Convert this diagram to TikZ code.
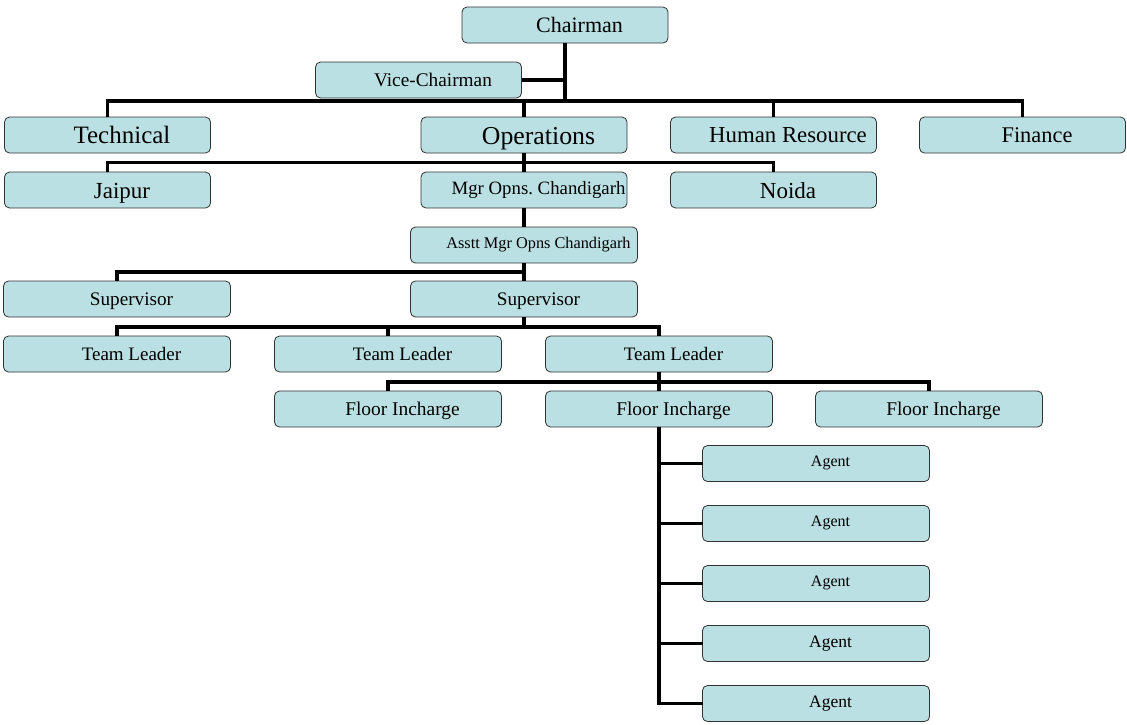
\documentclass[tikz,border=0pt]{standalone}
\usepackage{fontspec}
\setmainfont{Liberation Serif}
\usetikzlibrary{positioning}
\definecolor{boxfill}{RGB}{187,224,227}
\definecolor{boxline}{RGB}{50,50,50}
\newcommand{\fsz}[1]{\fontsize{#1}{#1}\selectfont}
\frenchspacing

\begin{document}
\begin{tikzpicture}[x=1pt, y=-1pt,
    box/.style={rectangle, rounded corners=5pt, draw=boxline, line width=0.8pt, fill=boxfill,
        minimum width=206pt, minimum height=36pt, inner sep=0pt, outer sep=0pt},
    wbox/.style={box, minimum width=227pt},
    txt/.style={xshift=14.5pt, inner sep=0pt, font=\fsz{#1}, text height={0.7*#1pt}, text depth=0pt, text=black},
    high/.style={yshift=2.5pt},
    link/.style={line width=3.5pt, black},
    ]
    \useasboundingbox (0,0) rectangle (1127,724);
    % Board
    \node[box, label={[txt=22]center:Chairman}] (chairman) at (565,25) {};
    \node[box, label={[txt=19.3]center:Vice-Chairman}] (vice) at (418.5,80) {};
    % Departments
    \node[box, label={[txt=25]center:Technical}] (technical) at (107.5,135) {};
    \node[box, label={[txt=25.8]center:Operations}] (operations) at (524,135) {};
    \node[box, label={[txt=22.8]center:Human Resource}] (hr) at (773.5,135) {};
    \node[box, label={[txt=22.4]center:Finance}] (finance) at (1022.5,135) {};
    % Locations
    \node[box, below=19pt of technical, label={[txt=23]center:Jaipur}] (jaipur) {};
    \node[box, below=19pt of operations, label={[txt=18.8, high]center:Mgr Opns. Chandigarh}] (mgr) {};
    \node[box, below=19pt of hr, label={[txt=23]center:Noida}] (noida) {};
    % Chandigarh floor
    \node[wbox, below=19pt of mgr, label={[txt=16.3, high]center:Asstt Mgr Opns Chandigarh}] (asstt) {};
    \node[wbox, below=18pt of asstt, label={[txt=19.2]center:Supervisor}] (sup2) {};
    \node[wbox, left=180pt of sup2, label={[txt=19.2]center:Supervisor}] (sup1) {};
    \node[wbox, below=19pt of sup1, label={[txt=19]center:Team Leader}] (tl1) {};
    \node[wbox, right=44pt of tl1, label={[txt=19]center:Team Leader}] (tl2) {};
    \node[wbox, right=44pt of tl2, label={[txt=19]center:Team Leader}] (tl3) {};
    \node[wbox, below=19pt of tl2, label={[txt=19.4]center:Floor Incharge}] (fi1) {};
    \node[wbox, below=19pt of tl3, label={[txt=19.4]center:Floor Incharge}] (fi2) {};
    \node[wbox, right=43pt of fi2, label={[txt=19.4]center:Floor Incharge}] (fi3) {};
    % Agents
    \node[wbox, label={[txt=16, high]center:Agent}] (agent1) at (816,463.5) {};
    \foreach \i/\s [count=\p from 1] in {2/16, 3/16, 4/17.5, 5/17.5}
        \node[wbox, below=24pt of agent\p, label={[txt=\s, high]center:Agent}] (agent\i) {};
    % Help coordinates for the buses
    \coordinate (bus2) at (0,101);
    \coordinate (bus3) at (0,162.5);
    \coordinate (bus4) at (0,272);
    \coordinate (bus5) at (0,327);
    \coordinate (bus6) at (0,382);

    % Edges board
    \draw[link] (chairman.south) -- (chairman.south |- bus2);
    \draw[link] (vice.east) -- (vice.east -| chairman.south);
    \draw[link] (technical.north) -- (technical.north |- bus2) -- (finance.north |- bus2) -- (finance.north);
    \draw[link] (operations.north) -- (operations.north |- bus2);
    \draw[link] (hr.north) -- (hr.north |- bus2);
    % Edges locations
    \draw[link] (jaipur.north) -- (jaipur.north |- bus3) -- (noida.north |- bus3) -- (noida.north);
    \draw[link] (operations.south) -- (mgr.north);
    \draw[link] (mgr) -- (asstt);
    % Edges supervisors
    \draw[link] (asstt) -- (sup2);
    \draw[link] (sup1.north) -- (sup1.north |- bus4) -- (asstt.south |- bus4);
    % Edges team leaders
    \draw[link] (sup2.south) -- (sup2.south |- bus5);
    \draw[link] (tl1.north) -- (tl1.north |- bus5) -- (tl3.north |- bus5) -- (tl3.north);
    \draw[link] (tl2.north) -- (tl2.north |- bus5);
    % Edges floor incharges
    \draw[link] (tl3) -- (fi2);
    \draw[link] (fi1.north) -- (fi1.north |- bus6) -- (fi3.north |- bus6) -- (fi3.north);
    % Edges agents
    \draw[link] (fi2.south) -- (fi2.south |- agent5) -- (agent5.west);
    \foreach \i in {1,...,4}
        \draw[link] (fi2.south |- agent\i) -- (agent\i.west);
\end{tikzpicture}
\end{document}
